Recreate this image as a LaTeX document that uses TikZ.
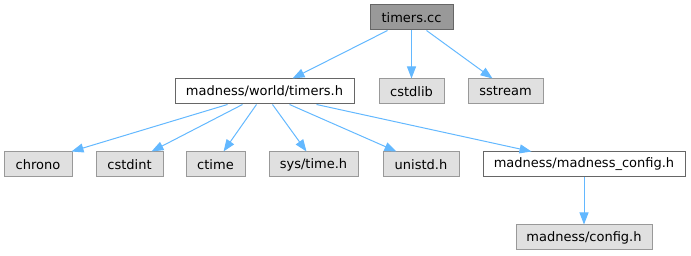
\documentclass[tikz,border=0pt]{standalone}
\usepackage{fontspec}
\setmainfont{DejaVu Sans}
\usetikzlibrary{arrows.meta,calc}
\definecolor{edgeblue}{HTML}{63B8FF}
\definecolor{rootfill}{HTML}{999999}
\definecolor{extfill}{HTML}{E0E0E0}
\definecolor{extdraw}{HTML}{999999}
\definecolor{localdraw}{HTML}{666666}
\begin{document}
\begin{tikzpicture}[x=1pt,y=-1pt,
  box/.style={rectangle,inner sep=0pt,minimum height=25pt,line width=1pt,
    font=\fontsize{13}{15}\selectfont},
  rootbox/.style={box,fill=rootfill,draw=localdraw},
  localbox/.style={box,fill=white,draw=localdraw},
  extbox/.style={box,fill=extfill,draw=extdraw},
  edge/.style={draw=edgeblue,line width=1pt,
    -{Triangle[length=12pt,width=9pt,fill=edgeblue]}}]
\useasboundingbox (0,0) rectangle (691,256);

% file nodes
\node[rootbox,minimum width=83pt]  (cc)     at (411.5,17.5)  {timers.cc};
\node[localbox,minimum width=179pt](th)     at (264.5,91.5)  {madness/world/timers.h};
\node[extbox,minimum width=65pt]   (cstdlib) at (411.5,91.5) {cstdlib};
\node[extbox,minimum width=75pt]   (sstream) at (505.5,91.5) {sstream};
\node[extbox,minimum width=68pt]   (chrono) at (38,164.5)    {chrono};
\node[extbox,minimum width=67pt]   (cstdint) at (129.5,164.5) {cstdint};
\node[extbox,minimum width=59pt]   (ctime)  at (215.5,164.5) {ctime};
\node[extbox,minimum width=89pt]   (systime) at (313.5,164.5) {sys/time.h};
\node[extbox,minimum width=76pt]   (unistd) at (421,164.5)   {unistd.h};
\node[localbox,minimum width=202pt](mcfg)   at (584,164.5)   {madness/madness\_config.h};
\node[extbox,minimum width=136pt]  (cfg)    at (584,237.5)   {madness/config.h};

% include edges
\draw[edge] ($(cc.south west)+(18,0)$) -- ($(th.north west)+(118,0)$);
\draw[edge] (cc.south) -- (cstdlib.north);
\draw[edge] ($(cc.south west)+(57,0)$) -- ($(sstream.north west)+(25,0)$);

\draw[edge] ($(th.south west)+(53,0)$) -- ($(chrono.north east)+(-1,0)$);
\draw[edge] ($(th.south west)+(68,0)$) -- ($(cstdint.north west)+(56,0)$);
\draw[edge] ($(th.south west)+(82,0)$) -- ($(ctime.north west)+(38,0)$);
\draw[edge] ($(th.south west)+(98,0)$) -- ($(systime.north west)+(38,0)$);
\draw[edge] ($(th.south west)+(115,0)$) -- ($(unistd.north west)+(14,0)$);
\draw[edge] ($(th.south west)+(142,0)$) -- ($(mcfg.north west)+(49,0)$);

\draw[edge] (mcfg.south) -- (cfg.north);
\end{tikzpicture}
\end{document}
